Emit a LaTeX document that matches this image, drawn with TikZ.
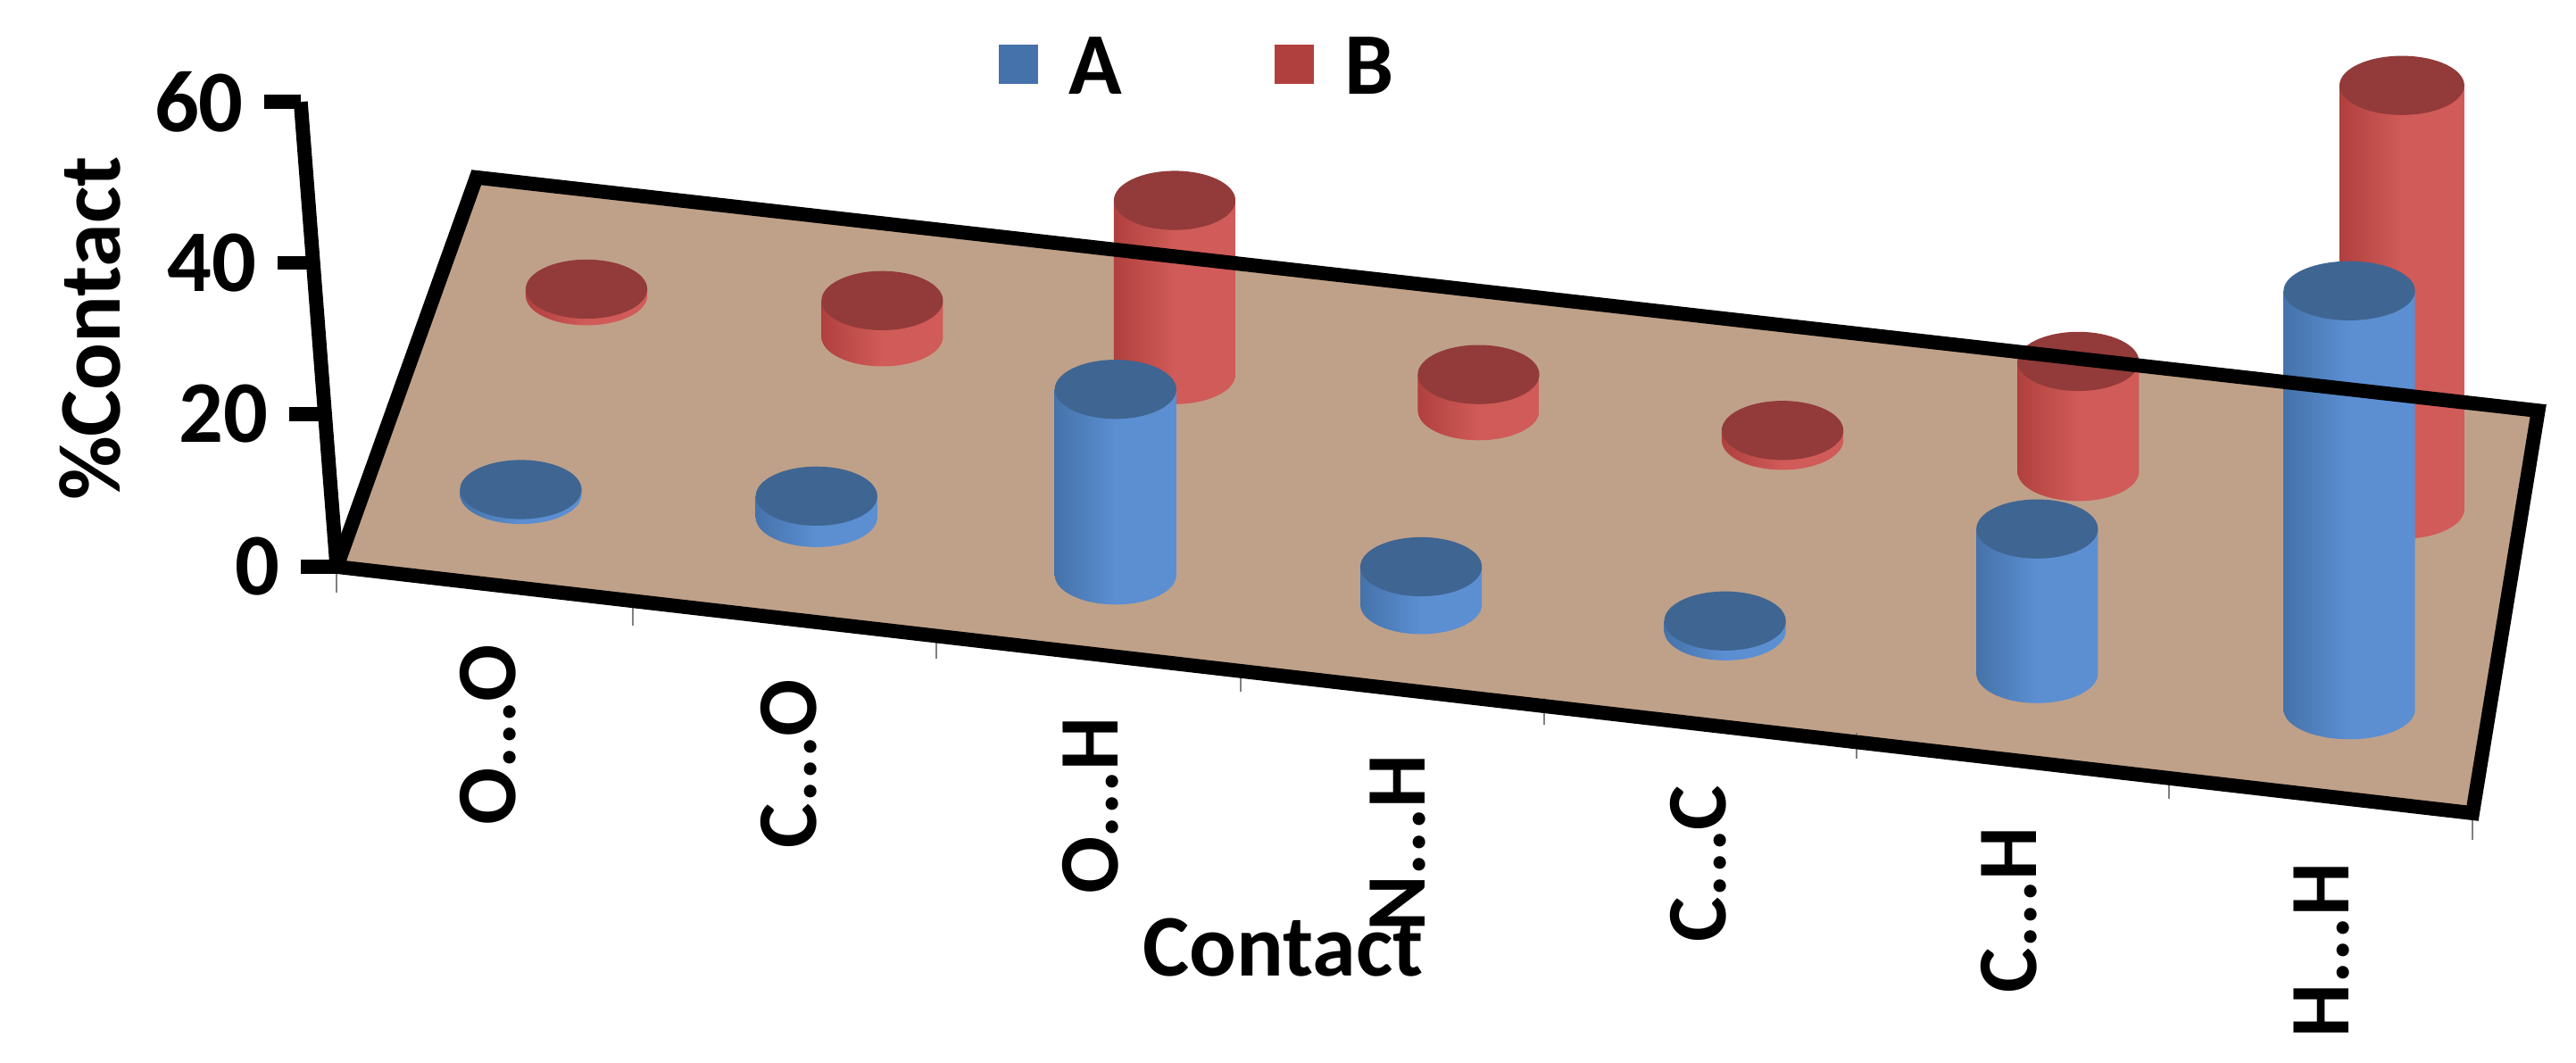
\documentclass[tikz,border=0pt]{standalone}
\usepackage{fontspec}
\setmainfont{Carlito}
\definecolor{floorc}{HTML}{BFA189}
\definecolor{btop}{HTML}{3F6592}
\definecolor{bs1}{HTML}{4572AA}
\definecolor{bs2}{HTML}{5B8FD2}
\definecolor{rtop}{HTML}{923B3A}
\definecolor{rs1}{HTML}{B0403E}
\definecolor{rs2}{HTML}{D05B58}
\newcommand\mycyl[6]{% x, ytop, ybot, rx, topcolor, side colors prefix
  \shade[left color=#61,right color=#62,middle color=#62] (#1-#4,#2) -- (#1-#4,#3) arc[start angle=180,end angle=0,x radius=#4,y radius=18] -- (#1+#4,#2) -- cycle;
  \fill[#5] (#1,#2) ellipse[x radius=#4,y radius=18];}
\begin{document}
\begin{tikzpicture}[x=0.0184cm,y=-0.0184cm,
  lab/.style={font=\bfseries\fontsize{28}{30}\selectfont},
  cat/.style={font=\bfseries\fontsize{27}{29}\selectfont,rotate=90,anchor=east,inner sep=0pt},
  tk/.style={font=\bfseries\fontsize{28}{30}\selectfont}]
\useasboundingbox (0,0) rectangle (1568,646.7);
% floor
\coordinate (f1) at (205,345); \coordinate (f2) at (290,108);
\coordinate (f3) at (1545,250); \coordinate (f4) at (1505,495);
\fill[floorc] (f1) -- (f2) -- (f3) -- (f4) -- cycle;
% ticks under front edge
\foreach \x/\y in {205/345,385/365,570/385,755/405,940/425,1130/446,1320/470,1505/495}
  \draw[gray,line width=0.6pt] (\x,\y) -- (\x,\y+16);
% red cylinders
\mycyl{357}{176}{180}{37}{rtop}{rs}
\mycyl{537}{183}{205}{37}{rtop}{rs}
\mycyl{715}{122}{228}{37}{rtop}{rs}
\mycyl{900}{228}{250}{37}{rtop}{rs}
\mycyl{1085}{262}{268}{37}{rtop}{rs}
\mycyl{1265}{220}{287}{37}{rtop}{rs}
\mycyl{1462}{52}{310}{38}{rtop}{rs}
% blue cylinders
\mycyl{317}{298}{301}{37}{btop}{bs}
\mycyl{497}{302}{315}{37}{btop}{bs}
\mycyl{679}{237}{350}{37}{btop}{bs}
\mycyl{865}{345}{368}{37}{btop}{bs}
\mycyl{1050}{378}{384}{37}{btop}{bs}
\mycyl{1240}{322}{410}{37}{btop}{bs}
\mycyl{1430}{177}{432}{40}{btop}{bs}
% floor border
\draw[line width=4.5pt,line join=miter] (f1) -- (f2) -- (f3) -- (f4) -- cycle;
% y axis
\coordinate (y0) at (205,345); \coordinate (y60) at (183,62);
\draw[line width=4.5pt] (y0) -- (y60);
\foreach \v/\y/\x in {0/345/205,20/252/198,40/160/191,60/62/183}{
  \draw[line width=4.5pt] (\x-22,\y) -- (\x,\y);
  \node[tk,anchor=east] (t\v) at (\x-28,\y) {\v};}
\node[lab,rotate=90] (yl) at (55,200) {\%Contact};
% category labels
\node[cat] (c1) at (297,392) {O...O};
\node[cat] (c2) at (480,413) {C...O};
\node[cat] (c3) at (664,436) {O...H};
\node[cat] (c4) at (851,459) {N...H};
\node[cat] (c5) at (1034,478) {C...C};
\node[cat] (c6) at (1223,503) {C...H};
\node[cat] (c7) at (1413,525) {H...H};
\node[lab] (xl) at (781,577) {Contact};
% legend
\fill[bs1] (608,27) rectangle (632,51);
\node[lab,anchor=west] (la) at (644,40) {A};
\fill[rs1] (776,27) rectangle (800,51);
\node[lab,anchor=west] (lb) at (812,40) {B};
\end{tikzpicture}
\end{document}
